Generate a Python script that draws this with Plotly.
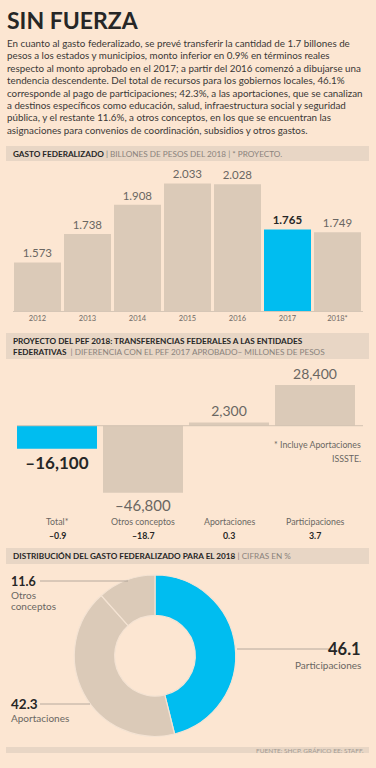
import plotly.graph_objects as go

W, H = 376, 768
BG = "#fce6d2"
BAR = "#dbcab8"
BLUE = "#00bdf0"
HDR = "#e8d6c5"
DARK = "#262626"
TXT = "#3a3836"
GRAY = "#6a6662"
FONT = "Lato"

# ---------------- data ----------------
title = "SIN FUERZA"
paragraph = [
    "En cuanto al gasto federalizado, se prevé transferir la cantidad de 1.7 billones de",
    "pesos a los estados y municipios, monto inferior en 0.9% en términos reales",
    "respecto al monto aprobado en el 2017; a partir del 2016 comenzó a dibujarse una",
    "tendencia descendente. Del total de recursos para los gobiernos locales, 46.1%",
    "corresponde al pago de participaciones; 42.3%, a las aportaciones, que se canalizan",
    "a destinos específicos como educación, salud, infraestructura social y seguridad",
    "pública, y el restante 11.6%, a otros conceptos, en los que se encuentran las",
    "asignaciones para convenios de coordinación, subsidios y otros gastos.",
]

years = ["2012", "2013", "2014", "2015", "2016", "2017", "2018*"]
gasto = [1.573, 1.738, 1.908, 2.033, 2.028, 1.765, 1.749]
gasto_labels = ["1.573", "1.738", "1.908", "2.033", "2.028", "<b>1.765</b>", "1.749"]

transf_cats = ["Total*", "Otros conceptos", "Aportaciones", "Participaciones"]
transf_vals = [-16100, -46800, 2300, 28400]
transf_labels = ["<b>–16,100</b>", "–46,800", "2,300", "28,400"]
transf_pct = ["–0.9", "–18.7", "0.3", "3.7"]

dist_labels = ["Participaciones", "Aportaciones", "Otros conceptos"]
dist_vals = [46.1, 42.3, 11.6]
dist_text = ["46.1", "42.3", "11.6"]


def xp(px):
    return px / W


def yp(py):
    return 1 - py / H


fig = go.Figure()

# ---------------- chart 1 ----------------
fig.add_trace(go.Bar(
    x=years, y=gasto, text=gasto_labels, textposition="outside",
    cliponaxis=False, width=0.94,
    marker=dict(color=[BAR] * 5 + [BLUE, BAR], line=dict(width=0)),
    textfont=dict(family=FONT, size=11.5,
                  color=[GRAY] * 5 + [DARK, GRAY]),
    constraintext="none", hoverinfo="skip", showlegend=False,
    xaxis="x", yaxis="y",
))

# ---------------- chart 2 ----------------
fig.add_trace(go.Bar(
    x=transf_cats, y=transf_vals, text=transf_labels, textposition="outside",
    cliponaxis=False, width=0.93,
    marker=dict(color=[BLUE, BAR, BAR, BAR], line=dict(width=0)),
    textfont=dict(family=FONT, size=[17, 15, 14, 14],
                  color=[DARK, GRAY, GRAY, GRAY]),
    constraintext="none", hoverinfo="skip", showlegend=False,
    xaxis="x2", yaxis="y2",
))

# ---------------- chart 3 (donut) ----------------
cx, cy, r = 155, 655.7, 80.7
fig.add_trace(go.Pie(
    labels=dist_labels, values=dist_vals, hole=0.5, sort=False,
    direction="clockwise", rotation=0,
    marker=dict(colors=[BLUE, BAR, BAR], line=dict(color="#f4e3d3", width=1.2)),
    textinfo="none", hoverinfo="skip", showlegend=False,
    domain=dict(x=[xp(cx - r), xp(cx + r)], y=[yp(cy + r), yp(cy - r)]),
))

shapes = []
ann = []

# background bars (headers, footer)
for (y0, y1) in [(146, 161), (333, 359), (548, 564), (747, 753)]:
    shapes.append(dict(type="rect", xref="paper", yref="paper",
                       x0=xp(6), x1=xp(369), y0=yp(y1), y1=yp(y0),
                       fillcolor=HDR, line=dict(width=0), layer="below"))

# title
ann.append(dict(text="<b>" + title + "</b>", x=xp(5), y=yp(20), xref="paper", yref="paper",
                xanchor="left", yanchor="middle", showarrow=False,
                font=dict(family=FONT, size=23, color=DARK)))
for i, line in enumerate(paragraph):
    ann.append(dict(text=line, x=xp(5), y=yp(43 + i * 12.4), xref="paper", yref="paper",
                    xanchor="left", yanchor="middle", showarrow=False,
                    font=dict(family=FONT, size=9.8, color=TXT)))


def header(text, py, x=11):
    ann.append(dict(text=text, x=xp(x), y=yp(py), xref="paper", yref="paper",
                    xanchor="left", yanchor="middle", showarrow=False,
                    font=dict(family=FONT, size=8.2, color=DARK)))


sep = "<span style='color:#8a837c'>"
header("<b>GASTO FEDERALIZADO</b> " + sep + "| BILLONES DE PESOS DEL 2018 | * PROYECTO.</span>", 154)
header("<b>PROYECTO DEL PEF 2018: TRANSFERENCIAS FEDERALES A LAS ENTIDADES</b>", 341)
header("<b>FEDERATIVAS</b>  " + sep + "| DIFERENCIA CON EL PEF 2017 APROBADO– MILLONES DE PESOS</span>", 352)
header("<b>DISTRIBUCIÓN DEL GASTO FEDERALIZADO PARA EL 2018</b> " + sep + "| CIFRAS EN %</span>", 556)

# chart 2 zero line
shapes.append(dict(type="line", xref="paper", yref="y2", x0=xp(17), x1=xp(363),
                   y0=0, y1=0, line=dict(color="#d2c2b2", width=1)))

for c, p in zip(transf_cats, transf_pct):
    ann.append(dict(text=c, x=c, y=yp(521), xref="x2", yref="paper",
                    xanchor="center", yanchor="middle", showarrow=False,
                    font=dict(family=FONT, size=8.8, color=GRAY)))
    ann.append(dict(text="<b>" + p + "</b>", x=c, y=yp(535), xref="x2", yref="paper",
                    xanchor="center", yanchor="middle", showarrow=False,
                    font=dict(family=FONT, size=8.8, color=DARK)))

for t, py in [("* Incluye Aportaciones", 444), ("ISSSTE.", 458)]:
    ann.append(dict(text=t, x=xp(363), y=yp(py), xref="paper", yref="paper",
                    xanchor="right", yanchor="middle", showarrow=False,
                    font=dict(family=FONT, size=8.8, color=GRAY)))

# donut labels + leader lines
def leader(x0, x1, py):
    shapes.append(dict(type="line", xref="paper", yref="paper", x0=xp(x0), x1=xp(x1),
                       y0=yp(py), y1=yp(py), line=dict(color="#a49a90", width=0.8)))


leader(40, 128, 581)
leader(237, 329, 649)
leader(40, 90, 704)

ann.append(dict(text="<b>" + dist_text[2] + "</b>", x=xp(9), y=yp(581), xref="paper", yref="paper",
                xanchor="left", yanchor="middle", showarrow=False,
                font=dict(family=FONT, size=12.5, color=DARK)))
ann.append(dict(text="Otros", x=xp(9), y=yp(595), xref="paper", yref="paper",
                xanchor="left", yanchor="middle", showarrow=False,
                font=dict(family=FONT, size=10, color=GRAY)))
ann.append(dict(text="conceptos", x=xp(9), y=yp(606), xref="paper", yref="paper",
                xanchor="left", yanchor="middle", showarrow=False,
                font=dict(family=FONT, size=10, color=GRAY)))

ann.append(dict(text="<b>" + dist_text[0] + "</b>", x=xp(363), y=yp(649), xref="paper", yref="paper",
                xanchor="right", yanchor="middle", showarrow=False,
                font=dict(family=FONT, size=16.5, color=DARK)))
ann.append(dict(text=dist_labels[0], x=xp(363), y=yp(665), xref="paper", yref="paper",
                xanchor="right", yanchor="middle", showarrow=False,
                font=dict(family=FONT, size=10, color=GRAY)))

ann.append(dict(text="<b>" + dist_text[1] + "</b>", x=xp(9), y=yp(704), xref="paper", yref="paper",
                xanchor="left", yanchor="middle", showarrow=False,
                font=dict(family=FONT, size=13.5, color=DARK)))
ann.append(dict(text=dist_labels[1], x=xp(9), y=yp(718), xref="paper", yref="paper",
                xanchor="left", yanchor="middle", showarrow=False,
                font=dict(family=FONT, size=10, color=GRAY)))

# footer
ann.append(dict(text="FUENTE: SHCP. GRÁFICO EE: STAFF.", x=xp(366), y=yp(750), xref="paper", yref="paper",
                xanchor="right", yanchor="middle", showarrow=False,
                font=dict(family=FONT, size=6.5, color="#a39a92")))

fig.update_layout(
    width=W, height=H, margin=dict(l=0, r=0, t=0, b=0),
    paper_bgcolor=BG, plot_bgcolor="rgba(0,0,0,0)",
    font=dict(family=FONT),
    shapes=shapes, annotations=ann,
    xaxis=dict(domain=[xp(12.5), xp(362.5)], anchor="y", showgrid=False, zeroline=False,
               showline=True, linecolor="#d6c6b6", linewidth=1, ticks="",
               tickfont=dict(family=FONT, size=7.5, color="#6f6a66"), fixedrange=True),
    yaxis=dict(domain=[yp(311), yp(170)], range=[1.29, 2.111], visible=False, fixedrange=True),
    xaxis2=dict(domain=[xp(14), xp(358)], anchor="y2", visible=False, fixedrange=True),
    yaxis2=dict(domain=[yp(500), yp(360)], range=[-51900, 45900], visible=False, fixedrange=True),
)

fig.write_html("out.html", config={"displayModeBar": False},
               post_script="document.body.style.margin='0';document.body.style.overflow='hidden';")
